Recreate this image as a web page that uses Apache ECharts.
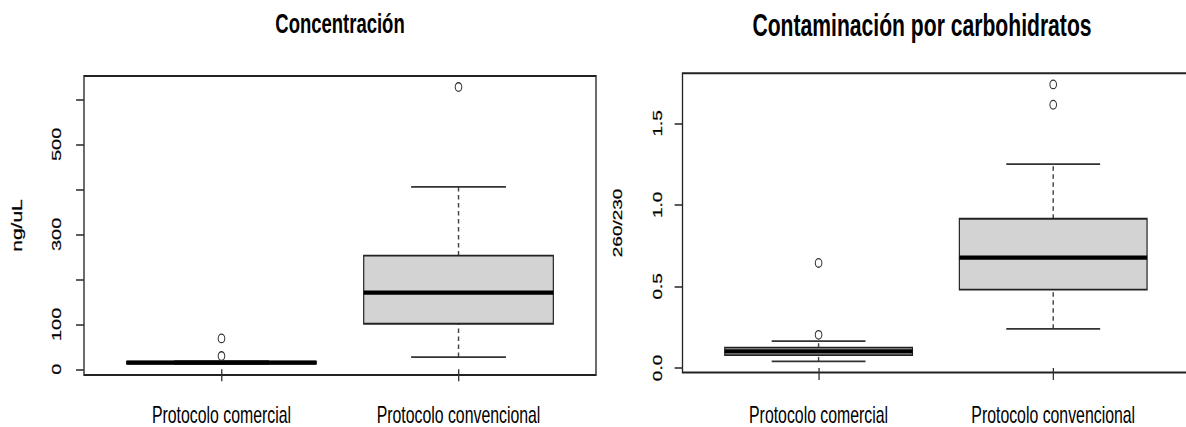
<!DOCTYPE html>
<html><head><meta charset="utf-8">
<script src="https://cdn.jsdelivr.net/npm/echarts@6/dist/echarts.min.js"></script>
<style>
html,body{margin:0;padding:0;overflow:hidden;background:#fff;width:1186px;height:427px;}
#wrap{width:1186px;height:427px;overflow:hidden;position:relative;}
#chart{width:1810px;height:427px;transform:scaleX(0.66);transform-origin:0 0;position:absolute;left:0;top:0;}
</style></head><body><div id="wrap"><div id="chart"></div></div>
<script>
// ---------- data ----------
const groups = ['Protocolo comercial', 'Protocolo convencional'];
// [lower whisker, Q1, median, Q3, upper whisker]
const concComercial = [12, 13, 15, 17, 18];
const concConvencional = [27.3, 101.3, 170.7, 252.8, 405.8];
const concOutComercial = [29.5, 68.7];
const concOutConvencional = [627.5];
const carbComercial = [0.040, 0.078, 0.101, 0.124, 0.164];
const carbConvencional = [0.240, 0.480, 0.676, 0.915, 1.250];
const carbOutComercial = [0.203, 0.644];
const carbOutConvencional = [1.614, 1.739];
const concTicks = [0, 100, 200, 300, 400, 500, 600];
const concLabels = [0, 100, 300, 500];
const carbTicks = [0, 0.5, 1, 1.5];
const carbLabels = [0, 0.5, 1, 1.5];
const groupPos = [1, 2];

// ---------- helpers ----------
const SX = 0.66;
const yFont = 'Liberation Sans';

function rRange(stats, outs) {
  const all = [].concat(...stats, ...outs);
  const lo = Math.min(...all), hi = Math.max(...all);
  const e = 0.04 * (hi - lo);
  return [lo - e, hi + e];
}
const concRange = rRange([concComercial, concConvencional], [concOutComercial, concOutConvencional]);
const carbRange = rRange([carbComercial, carbConvencional], [carbOutComercial, carbOutConvencional]);

function boxData(a, b) { return [[groupPos[0]].concat(a), [groupPos[1]].concat(b)]; }
function outData(a, b) {
  return a.map(v => [groupPos[0], v]).concat(b.map(v => [groupPos[1], v]));
}

function boxRender(params, api) {
  const x = api.value(0);
  const lo = api.coord([x, api.value(1)]);
  const q1 = api.coord([x, api.value(2)]);
  const md = api.coord([x, api.value(3)]);
  const q3 = api.coord([x, api.value(4)]);
  const hi = api.coord([x, api.value(5)]);
  const hw = api.size([0.4, 0])[0];
  const sw = api.size([0.2, 0])[0];
  const cx = lo[0];
  const whisk = { stroke: '#444', lineWidth: 2.2, lineDash: [4.5, 3.5] };
  const staple = { stroke: '#333', lineWidth: 1.8 };
  return { type: 'group', children: [
    { type: 'line', shape: { x1: cx, y1: q3[1], x2: cx, y2: hi[1] }, style: whisk },
    { type: 'line', shape: { x1: cx, y1: lo[1], x2: cx, y2: q1[1] }, style: whisk },
    { type: 'line', shape: { x1: cx - sw, y1: hi[1], x2: cx + sw, y2: hi[1] }, style: staple },
    { type: 'line', shape: { x1: cx - sw, y1: lo[1], x2: cx + sw, y2: lo[1] }, style: staple },
    { type: 'rect', shape: { x: cx - hw, y: q3[1], width: 2 * hw, height: q1[1] - q3[1] },
      style: { fill: '#d3d3d3', stroke: '#222', lineWidth: 1.8 } },
    { type: 'line', shape: { x1: cx - hw, y1: md[1], x2: cx + hw, y2: md[1] }, style: { stroke: '#000', lineWidth: 4.2 } }
  ]};
}

const ellipse = 'path://M10,0A10,10,0,1,1,-10,0A10,10,0,1,1,10,0Z';

function xAxisCfg(gi, margin) {
  return {
    type: 'value', gridIndex: gi, min: 0.42, max: 2.58,
    axisLine: { show: false }, splitLine: { show: false },
    axisTick: { show: true, length: 12, customValues: groupPos, lineStyle: { color: '#333', width: 2 } },
    axisLabel: { show: true, customValues: groupPos, margin: margin,
      formatter: v => groups[Math.round(v) - 1] || '',
      fontFamily: 'Liberation Sans', fontSize: 24, color: '#000' }
  };
}
function yAxisCfg(gi, range, ticks, labels, name, labSize, nameSize, margin, gap, fmt) {
  return {
    type: 'value', gridIndex: gi, min: range[0], max: range[1],
    name: name, nameLocation: 'middle', nameGap: gap,
    nameTextStyle: { fontFamily: yFont, fontSize: nameSize, color: '#000',
      textBorderColor: '#000', textBorderWidth: 0.3 },
    axisLine: { show: false }, splitLine: { show: false },
    axisTick: { show: true, length: 12, customValues: ticks, lineStyle: { color: '#333', width: 1.6 } },
    axisLabel: { show: true, customValues: labels, rotate: 90, margin: margin, formatter: fmt,
      fontFamily: yFont, fontSize: labSize, color: '#000',
      textBorderColor: '#000', textBorderWidth: 0.3 }
  };
}

const chart = echarts.init(document.getElementById('chart'), null, { renderer: 'svg' });
chart.setOption({
  animation: false,
  backgroundColor: '#fff',
  textStyle: { fontFamily: 'Liberation Sans' },
  title: [
    { text: 'Concentración', left: 340 / SX, top: 10, textAlign: 'center', padding: 0,
      textStyle: { fontFamily: 'Liberation Sans', fontWeight: 'bold', fontSize: 28, color: '#000' } },
    { text: 'Contaminación por carbohidratos', left: 922 / SX, top: 9, textAlign: 'center', padding: 0,
      textStyle: { fontFamily: 'Liberation Sans', fontWeight: 'bold', fontSize: 32, color: '#000' } }
  ],
  grid: [
    { left: 84 / SX, top: 76, width: 512 / SX, height: 300.7, show: true, borderColor: '#222', borderWidth: 2, backgroundColor: 'transparent' },
    { left: 682.5 / SX, top: 73.3, width: 506.8 / SX, height: 300.7, show: true, borderColor: '#222', borderWidth: 2, backgroundColor: 'transparent' }
  ],
  xAxis: [xAxisCfg(0, 28), xAxisCfg(1, 30.5)],
  yAxis: [
    yAxisCfg(0, concRange, concTicks, concLabels, 'ng/uL', 20, 21, 31, 90, v => String(v)),
    yAxisCfg(1, carbRange, carbTicks, carbLabels, '260/230', 19, 19, 29, 89, v => v.toFixed(1))
  ],
  series: [
    { type: 'custom', xAxisIndex: 0, yAxisIndex: 0, renderItem: boxRender,
      encode: { x: 0, y: [1, 2, 3, 4, 5] }, data: boxData(concComercial, concConvencional) },
    { type: 'custom', xAxisIndex: 1, yAxisIndex: 1, renderItem: boxRender,
      encode: { x: 0, y: [1, 2, 3, 4, 5] }, data: boxData(carbComercial, carbConvencional) },
    { type: 'scatter', xAxisIndex: 0, yAxisIndex: 0, symbol: ellipse, symbolSize: [10, 8.6],
      itemStyle: { color: 'transparent', borderColor: '#333', borderWidth: 1.4, opacity: 1 },
      data: outData(concOutComercial, concOutConvencional) },
    { type: 'scatter', xAxisIndex: 1, yAxisIndex: 1, symbol: ellipse, symbolSize: [10, 8.6],
      itemStyle: { color: 'transparent', borderColor: '#333', borderWidth: 1.4, opacity: 1 },
      data: outData(carbOutComercial, carbOutConvencional) }
  ]
});
</script></body></html>
